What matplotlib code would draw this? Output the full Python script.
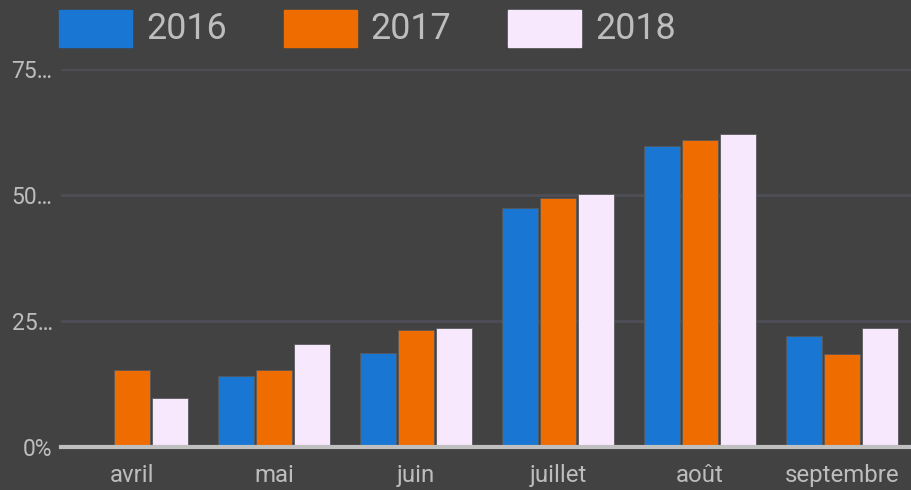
import numpy as np
import matplotlib.pyplot as plt
from matplotlib.patches import Rectangle

months = ["avril", "mai", "juin", "juillet", "août", "septembre"]
years = ["2016", "2017", "2018"]
v2016 = [0, 14.1, 18.6, 47.4, 59.7, 22.0]
v2017 = [15.3, 15.3, 23.2, 49.4, 60.9, 18.5]
v2018 = [9.7, 20.4, 23.6, 50.2, 62.1, 23.6]
yticks = [0, 25, 50, 75]
ytick_labels = ["0%", "25…", "50…", "75…"]

colors = ["#1976D2", "#EF6C00", "#F8E8FD"]
bg = "#424242"
txt = "#BDBDBD"

plt.rcParams['font.family'] = ['Roboto', 'DejaVu Sans']

fig = plt.figure(figsize=(9.11, 4.90), dpi=100, facecolor=bg)
ax = fig.add_axes([61/911, 43/490, 852/911, 378/490], facecolor=bg)

x = np.arange(len(months))
w = 0.267
for i, vals in enumerate([v2016, v2017, v2018]):
    ax.bar(x + (i - 1) * w, vals, width=w * 0.97, color=colors[i],
           edgecolor="#5a5a5a", linewidth=0.6, zorder=3)

ax.set_xlim(-0.5, len(months) - 0.5)
ax.set_ylim(0, 75)
ax.set_yticks(yticks)
ax.set_yticklabels(ytick_labels)
ax.set_xticks(x)
ax.set_xticklabels(months)
ax.tick_params(length=0, colors=txt, labelsize=16.5)
ax.tick_params(axis='x', pad=12, labelsize=17.3)
ax.tick_params(axis='y', pad=6)
for t in yticks[1:]:
    ax.axhline(t, color="#4d4d55", lw=2.2, zorder=1)
ax.axhline(0, color="#C0C0C0", lw=3, zorder=4, clip_on=False)
for s in ax.spines.values():
    s.set_visible(False)

# legend
for i, (yr, col) in enumerate(zip(years, colors)):
    x0 = 59 + i * 224.5
    fig.patches.append(Rectangle((x0 / 911, 1 - 47 / 490), 73 / 911, 37 / 490,
                                 transform=fig.transFigure, color=col))
    fig.text((x0 + 87) / 911, 1 - 29 / 490, yr, color=txt, fontsize=25.8,
             va='center', ha='left')

fig.savefig("out.png", dpi=100, facecolor=bg)
